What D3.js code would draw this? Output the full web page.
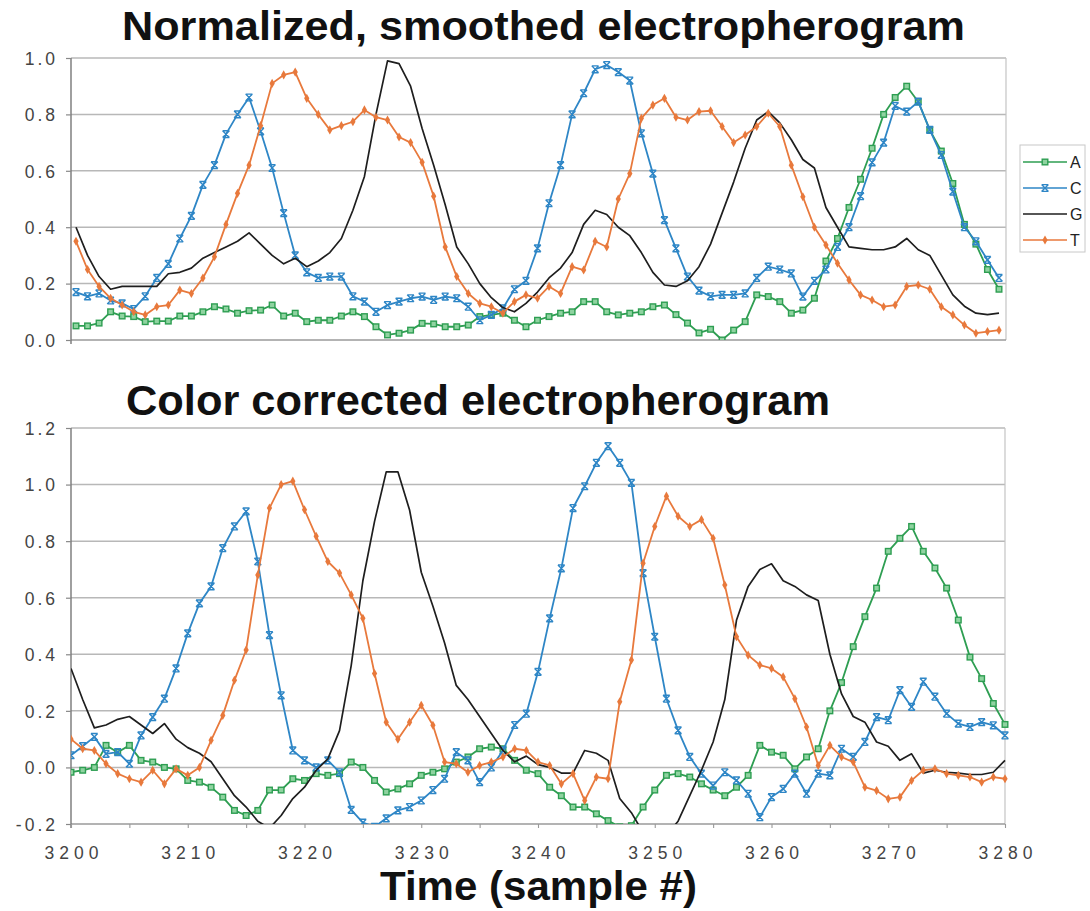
<!DOCTYPE html>
<html><head><meta charset="utf-8">
<script src="https://cdn.jsdelivr.net/npm/d3@7"></script>
<style>body{margin:0;background:#fff}svg{display:block}</style>
</head><body>
<svg id="c" width="1090" height="911"></svg>
<script>
// ---------- data ----------
const samples = d3.range(3200, 3281);           // sample numbers 3200..3280
const bases = ["A", "C", "G", "T"];
const xTicks = [3200, 3210, 3220, 3230, 3240, 3250, 3260, 3270, 3280];
const xMinorTicks = [3200,3205,3210,3215,3220,3225,3230,3235,3240,3245,3250,3255,3260,3265,3270,3275,3280];
const topYTicks = [0, 0.2, 0.4, 0.6, 0.8, 1.0];
const topYLabels = ["0.0", "0.2", "0.4", "0.6", "0.8", "1.0"];
const botYTicks = [-0.2, 0, 0.2, 0.4, 0.6, 0.8, 1.0, 1.2];
const botYLabels = ["-0.2", "0.0", "0.2", "0.4", "0.6", "0.8", "1.0", "1.2"];

// Normalized, smoothed
const topA = [0.05,0.05,0.06,0.10,0.085,0.083,0.065,0.067,0.067,0.085,
  0.085,0.10,0.118,0.11,0.095,0.104,0.106,0.124,0.085,0.095,
  0.065,0.07,0.07,0.085,0.10,0.083,0.047,0.018,0.024,0.035,
  0.059,0.057,0.047,0.047,0.053,0.083,0.089,0.095,0.07,0.047,
  0.07,0.083,0.095,0.10,0.136,0.136,0.10,0.089,0.095,0.10,
  0.118,0.124,0.09,0.06,0.025,0.038,0.0,0.035,0.065,0.16,
  0.154,0.136,0.095,0.106,0.148,0.28,0.36,0.47,0.57,0.68,
  0.80,0.86,0.90,0.845,0.745,0.67,0.555,0.41,0.34,0.25,0.18];
const topC = [0.17,0.155,0.165,0.14,0.13,0.11,0.155,0.22,0.27,0.36,
  0.44,0.55,0.62,0.73,0.80,0.86,0.74,0.61,0.45,0.30,
  0.24,0.22,0.225,0.225,0.155,0.136,0.10,0.124,0.136,0.148,
  0.154,0.142,0.154,0.148,0.118,0.07,0.089,0.112,0.18,0.21,
  0.325,0.485,0.62,0.80,0.875,0.96,0.975,0.95,0.92,0.733,
  0.59,0.425,0.325,0.225,0.175,0.155,0.16,0.16,0.165,0.22,
  0.26,0.25,0.236,0.154,0.21,0.25,0.33,0.40,0.51,0.63,
  0.70,0.83,0.81,0.845,0.745,0.656,0.526,0.40,0.35,0.284,0.22];
const topG = [0.40,0.30,0.225,0.18,0.19,0.19,0.19,0.19,0.235,0.24,
  0.255,0.29,0.31,0.33,0.35,0.38,0.34,0.30,0.27,0.29,
  0.26,0.28,0.31,0.36,0.46,0.58,0.80,0.99,0.98,0.90,
  0.75,0.62,0.48,0.33,0.27,0.20,0.15,0.115,0.10,0.13,
  0.17,0.22,0.255,0.31,0.41,0.46,0.445,0.40,0.37,0.31,
  0.24,0.195,0.19,0.21,0.26,0.34,0.45,0.56,0.68,0.78,
  0.81,0.77,0.71,0.64,0.61,0.47,0.40,0.33,0.325,0.32,
  0.32,0.33,0.36,0.32,0.30,0.23,0.16,0.12,0.095,0.09,0.095];
const topT = [0.35,0.25,0.19,0.148,0.124,0.10,0.089,0.118,0.124,0.177,
  0.165,0.22,0.295,0.41,0.52,0.62,0.76,0.91,0.94,0.95,
  0.857,0.80,0.745,0.76,0.774,0.816,0.79,0.78,0.72,0.70,
  0.63,0.51,0.33,0.225,0.165,0.13,0.118,0.095,0.136,0.16,
  0.148,0.19,0.165,0.26,0.248,0.35,0.33,0.50,0.59,0.786,
  0.833,0.857,0.79,0.78,0.81,0.813,0.757,0.70,0.727,0.757,
  0.804,0.757,0.62,0.508,0.40,0.337,0.272,0.213,0.16,0.142,
  0.118,0.124,0.19,0.195,0.18,0.118,0.089,0.053,0.024,0.03,0.035];

// Color corrected
const botA = [-0.017,-0.01,0.0,0.078,0.054,0.078,0.025,0.019,0.0,-0.005,
  -0.046,-0.052,-0.07,-0.105,-0.152,-0.17,-0.152,-0.08,-0.08,-0.04,
  -0.046,-0.022,-0.028,-0.022,0.019,0.0,-0.046,-0.087,-0.076,-0.058,
  -0.028,-0.017,-0.005,0.019,0.037,0.066,0.072,0.066,0.025,-0.01,
  -0.022,-0.07,-0.10,-0.14,-0.14,-0.164,-0.188,-0.21,-0.206,-0.14,
  -0.08,-0.028,-0.022,-0.034,-0.058,-0.08,-0.10,-0.07,-0.028,0.078,
  0.054,0.043,-0.005,0.037,0.066,0.20,0.30,0.427,0.533,0.634,
  0.764,0.81,0.852,0.764,0.705,0.634,0.521,0.39,0.314,0.226,0.152];
const botC = [0.043,0.075,0.108,0.048,0.054,0.013,0.113,0.178,0.243,0.35,
  0.474,0.58,0.64,0.775,0.852,0.905,0.728,0.468,0.255,0.06,
  0.025,0.0,0.025,-0.017,-0.15,-0.195,-0.21,-0.18,-0.152,-0.14,
  -0.117,-0.08,-0.04,0.054,0.025,-0.052,0.0,0.06,0.15,0.19,
  0.338,0.527,0.704,0.917,0.994,1.077,1.136,1.077,1.006,0.687,
  0.462,0.243,0.131,0.037,-0.022,-0.064,-0.017,-0.046,-0.093,-0.176,
  -0.105,-0.076,-0.022,-0.093,-0.022,-0.028,0.066,0.037,0.09,0.178,
  0.167,0.273,0.214,0.303,0.25,0.19,0.155,0.143,0.16,0.149,0.113];
const botG = [0.35,0.24,0.14,0.15,0.17,0.18,0.15,0.12,0.155,0.10,
  0.07,0.05,0.02,-0.04,-0.10,-0.14,-0.19,-0.215,-0.17,-0.11,
  -0.07,-0.01,0.03,0.13,0.36,0.66,0.87,1.045,1.045,0.91,
  0.69,0.57,0.44,0.29,0.24,0.18,0.12,0.06,0.02,0.04,
  0.01,0.0,-0.02,-0.02,0.06,0.05,0.025,-0.11,-0.16,-0.23,
  -0.28,-0.24,-0.19,-0.10,-0.01,0.09,0.24,0.52,0.64,0.70,
  0.72,0.66,0.64,0.61,0.59,0.40,0.26,0.18,0.16,0.09,
  0.075,0.025,0.048,-0.02,-0.01,-0.017,-0.02,-0.025,-0.025,-0.017,0.025];
const botT = [0.10,0.066,0.06,0.013,-0.022,-0.04,-0.052,-0.01,-0.058,-0.005,
  -0.028,0.0,0.096,0.184,0.308,0.415,0.68,0.917,1.0,1.012,
  0.911,0.817,0.728,0.687,0.61,0.527,0.332,0.16,0.10,0.16,
  0.22,0.149,0.019,0.013,-0.017,0.007,0.019,0.037,0.066,0.06,
  0.019,0.007,-0.058,-0.022,-0.117,-0.034,-0.04,0.232,0.38,0.722,
  0.852,0.959,0.888,0.852,0.876,0.81,0.645,0.462,0.397,0.362,
  0.35,0.32,0.243,0.143,0.007,0.078,0.037,0.019,-0.07,-0.082,
  -0.111,-0.105,-0.046,-0.01,-0.005,-0.022,-0.028,-0.034,-0.052,-0.034,-0.04];

// ---------- styles ----------
const colors = { A: "#2e9e52", C: "#2e86c6", G: "#1e1e1e", T: "#e8793c" };
const fontFam = "'Liberation Sans', Arial, Helvetica, sans-serif";
const tickFill = "#444";
const gridCol = "#b8b8b8";

const svg = d3.select("#c");

const panels = [
  { id: "p1", title: "Normalized, smoothed electropherogram", titleX: 122, titleY: 40, titleSize: 41, titleW: 843,
    series: { A: topA, C: topC, G: topG, T: topT },
    yTicks: topYTicks, yLabels: topYLabels,
    x: d3.scaleLinear().domain([3200, 3280]).range([76, 999]),
    y: d3.scaleLinear().domain([0, 1]).range([340, 58]),
    left: 71, right: 1006, showX: false },
  { id: "p2", title: "Color corrected electropherogram", titleX: 126, titleY: 415, titleSize: 42, titleW: 704,
    series: { A: botA, C: botC, G: botG, T: botT },
    yTicks: botYTicks, yLabels: botYLabels,
    x: d3.scaleLinear().domain([3200, 3280]).range([71, 1005]),
    y: d3.scaleLinear().domain([-0.2, 1.2]).range([824, 428]),
    left: 71, right: 1005, showX: true }
];

function drawMarker(g, base, px, py) {
  const c = colors[base];
  if (base === "A") {
    g.append("rect").attr("x", px - 2.8).attr("y", py - 2.8).attr("width", 5.6).attr("height", 5.6)
      .attr("fill", "#8fd3a0").attr("stroke", c).attr("stroke-width", 1.4);
  } else if (base === "C") {
    const s = 3.4;
    g.append("path")
      .attr("d", `M${px - s},${py - s}L${px + s},${py + s}M${px + s},${py - s}L${px - s},${py + s}M${px - s},${py - s}H${px + s}M${px - s},${py + s}H${px + s}`)
      .attr("stroke", c).attr("stroke-width", 1.4).attr("fill", "none");
  } else if (base === "T") {
    g.append("path").attr("d", d3.symbol(d3.symbolDiamond, 24)())
      .attr("transform", `translate(${px},${py})`).attr("fill", c);
  }
}

panels.forEach(p => {
  const yTop = p.y.range()[1], yBot = p.y.range()[0];
  const yMin = p.y.domain()[0];

  // title
  svg.append("text").attr("x", p.titleX).attr("y", p.titleY)
    .attr("font-family", fontFam).attr("font-weight", "bold").attr("font-size", p.titleSize)
    .attr("textLength", p.titleW).attr("lengthAdjust", "spacingAndGlyphs")
    .attr("fill", "#111").text(p.title);

  // gridlines
  svg.append("g").selectAll("line").data(p.yTicks.filter(v => v !== yMin)).join("line")
    .attr("x1", p.left).attr("x2", p.right)
    .attr("y1", d => p.y(d)).attr("y2", d => p.y(d))
    .attr("stroke", gridCol).attr("stroke-width", 1.5);
  // right border
  svg.append("line").attr("x1", p.right).attr("x2", p.right).attr("y1", yTop).attr("y2", yBot)
    .attr("stroke", "#c4c4c4").attr("stroke-width", 1.2);
  // bottom axis line
  svg.append("line").attr("x1", p.left).attr("x2", p.right).attr("y1", yBot).attr("y2", yBot)
    .attr("stroke", "#9a9a9a").attr("stroke-width", 1.4);

  // left axis
  const yAxis = d3.axisLeft(p.y).tickValues(p.yTicks).tickSize(5).tickPadding(6)
    .tickFormat((d, i) => p.yLabels[i]);
  const ga = svg.append("g").attr("transform", `translate(${p.left},0)`).call(yAxis);
  ga.select(".domain").attr("stroke", "#777").attr("stroke-width", 1.4)
    .attr("d", `M0,${yTop}V${yBot + 4}`);
  ga.selectAll(".tick line").attr("stroke", "#888").attr("stroke-width", 1.2);
  ga.selectAll(".tick text").attr("font-family", fontFam).attr("font-size", 17.5)
    .attr("letter-spacing", "3px").attr("fill", tickFill).attr("dy", "0.36em").attr("dx", "-2px");

  // x axis (bottom panel)
  if (p.showX) {
    const xAxis = d3.axisBottom(p.x).tickValues(xMinorTicks).tickSize(4).tickPadding(19)
      .tickFormat(d => xTicks.includes(d) ? String(d) : "");
    const gx = svg.append("g").attr("transform", `translate(0,${yBot})`).call(xAxis);
    gx.select(".domain").remove();
    gx.selectAll(".tick line").attr("stroke", "#999").attr("stroke-width", 1.1);
    gx.selectAll(".tick text").attr("font-family", fontFam).attr("font-size", 17.5)
      .attr("letter-spacing", "5px").attr("fill", tickFill).attr("dx", "2.5px");
  }

  // clip
  svg.append("clipPath").attr("id", "clip-" + p.id).append("rect")
    .attr("x", p.left).attr("y", yTop - 6).attr("width", p.right - p.left + 6).attr("height", yBot - yTop + 6);

  const plot = svg.append("g").attr("clip-path", `url(#clip-${p.id})`);
  const line = d3.line().x((d, i) => p.x(samples[i])).y(d => p.y(d));

  bases.forEach(b => {
    const vals = p.series[b];
    plot.append("path").datum(vals).attr("d", line).attr("fill", "none")
      .attr("stroke", colors[b]).attr("stroke-width", b === "G" ? 1.7 : 1.8)
      .attr("stroke-linejoin", "round");
    if (b !== "G") {
      const mg = plot.append("g");
      vals.forEach((v, i) => drawMarker(mg, b, p.x(samples[i]), p.y(v)));
    }
  });
});

// x-axis title
svg.append("text").attr("x", 380).attr("y", 900)
  .attr("font-family", fontFam).attr("font-weight", "bold").attr("font-size", 40)
  .attr("textLength", 317).attr("lengthAdjust", "spacingAndGlyphs")
  .attr("fill", "#111").text("Time (sample #)");

// legend
const lg = svg.append("g");
lg.append("rect").attr("x", 1020).attr("y", 145).attr("width", 65).attr("height", 107)
  .attr("fill", "#fff").attr("stroke", "#c8c8c8").attr("stroke-width", 1);
const legY = d3.scalePoint().domain(bases).range([162, 240]);
bases.forEach(b => {
  const yy = legY(b);
  lg.append("line").attr("x1", 1023).attr("x2", 1067).attr("y1", yy).attr("y2", yy)
    .attr("stroke", colors[b]).attr("stroke-width", 1.6);
  drawMarker(lg, b, 1045, yy);
  lg.append("text").attr("x", 1070).attr("y", yy).attr("dy", "0.36em")
    .attr("font-family", fontFam).attr("font-size", 16).attr("fill", "#222").text(b);
});
</script>
</body></html>
